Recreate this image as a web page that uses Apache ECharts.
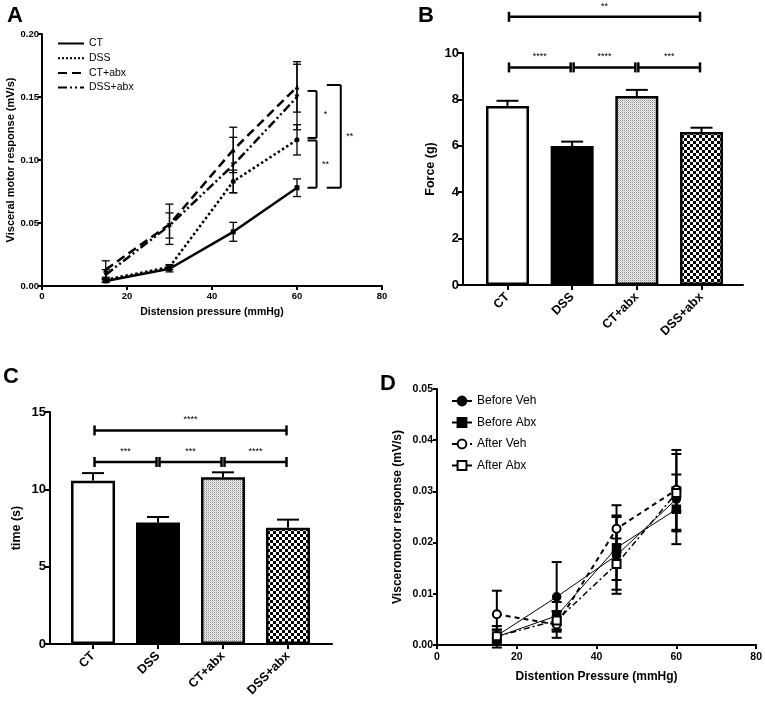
<!DOCTYPE html>
<html>
<head>
<meta charset="utf-8">
<script src="https://cdn.jsdelivr.net/npm/echarts@6/dist/echarts.min.js"></script>
<style>
html,body{margin:0;padding:0;background:#fff;}
#chart{width:765px;height:706px;}
</style>
</head>
<body>
<div id="chart"></div>
<script>
// ---------- DATA ----------
// Panel A
var pressureA = [15, 30, 45, 60];
var seriesNamesA = ['CT', 'DSS', 'CT+abx', 'DSS+abx'];
var meanA_CT = [0.004, 0.0137, 0.043, 0.078];
var semA_CT = [0.001, 0.0025, 0.0075, 0.007];
var meanA_DSS = [0.005, 0.015, 0.083, 0.116];
var semA_DSS = [0.002, 0.002, 0.009, 0.012];
var meanA_CTabx = [0.013, 0.049, 0.108, 0.158];
var semA_CTabx = [0.007, 0.016, 0.018, 0.020];
var meanA_DSSabx = [0.009, 0.048, 0.096, 0.150];
var semA_DSSabx = [0.004, 0.010, 0.022, 0.026];
var bracketA_x = [64.6, 64.6, 70.3];
var bracketA_top = [0.1548, 0.1155, 0.1595];
var bracketA_bottom = [0.1175, 0.078, 0.078];
var bracketA_label = ['*', '**', '**'];

// Panel B
var groups = ['CT', 'DSS', 'CT+abx', 'DSS+abx'];
var forceB = [7.72, 5.99, 8.15, 6.59];
var forceB_sem = [0.22, 0.19, 0.26, 0.19];
var sigB_from = [0, 1, 2, 0];
var sigB_to = [1, 2, 3, 3];
var sigB_level = [9.38, 9.38, 9.38, 11.56];
var sigB_label = ['****', '****', '***', '**'];

// Panel C
var timeC = [10.56, 7.85, 10.78, 7.52];
var timeC_sem = [0.49, 0.36, 0.32, 0.52];
var sigC_from = [0, 1, 2, 0];
var sigC_to = [1, 2, 3, 3];
var sigC_level = [11.77, 11.77, 11.77, 13.81];
var sigC_label = ['***', '***', '****', '****'];

// Panel D
var pressureD = [15, 30, 45, 60];
var seriesNamesD = ['Before Veh', 'Before Abx', 'After Veh', 'After Abx'];
var meanD_BeforeVeh = [0.0018, 0.0094, 0.0175, 0.0285];
var semD_BeforeVeh = [0.0012, 0.0068, 0.0075, 0.0088];
var meanD_BeforeAbx = [0.0016, 0.0057, 0.0190, 0.0265];
var semD_BeforeAbx = [0.0021, 0.0027, 0.0063, 0.0043];
var meanD_AfterVeh = [0.0060, 0.0040, 0.0227, 0.0303];
var semD_AfterVeh = [0.0046, 0.0026, 0.0046, 0.0078];
var meanD_AfterAbx = [0.0017, 0.0048, 0.0158, 0.0297];
var semD_AfterAbx = [0.0013, 0.0018, 0.0050, 0.0036];

// ---------- HELPERS ----------
var FONT = 'Liberation Sans';
function pts(xs, ys) { return xs.map(function (x, i) { return [x, ys[i]]; }); }
function errPts(xs, ys, es) { return xs.map(function (x, i) { return [x, ys[i] - es[i], ys[i] + es[i]]; }); }
function upErr(ys, es) { return ys.map(function (y, i) { return [i, y, y + es[i]]; }); }

function errRender(capHalf, lw, upOnly) {
  return function (params, api) {
    var x = api.value(0), lo = api.value(1), hi = api.value(2);
    var pl = api.coord([x, lo]), ph = api.coord([x, hi]);
    var st = { stroke: '#000', lineWidth: lw };
    var ch = [
      { type: 'line', shape: { x1: ph[0], y1: pl[1], x2: ph[0], y2: ph[1] }, style: st },
      { type: 'line', shape: { x1: ph[0] - capHalf, y1: ph[1], x2: ph[0] + capHalf, y2: ph[1] }, style: st }
    ];
    if (!upOnly) ch.push({ type: 'line', shape: { x1: pl[0] - capHalf, y1: pl[1], x2: pl[0] + capHalf, y2: pl[1] }, style: st });
    return { type: 'group', children: ch };
  };
}

function sigRender(labels) {
  return function (params, api) {
    var a = api.coord([api.value(0), api.value(2)]);
    var b = api.coord([api.value(1), api.value(2)]);
    var x1 = a[0] + 1.5, x2 = b[0] - 1.5, y = a[1];
    var st = { stroke: '#000', lineWidth: 2.5 };
    return {
      type: 'group', children: [
        { type: 'line', shape: { x1: x1, y1: y, x2: x2, y2: y }, style: st },
        { type: 'line', shape: { x1: x1, y1: y - 5, x2: x1, y2: y + 5 }, style: st },
        { type: 'line', shape: { x1: x2, y1: y - 5, x2: x2, y2: y + 5 }, style: st },
        { type: 'text', style: { text: labels[params.dataIndex], x: (x1 + x2) / 2, y: y - 6, align: 'center', verticalAlign: 'bottom', fontSize: 9, fontFamily: FONT, fill: '#000' } }
      ]
    };
  };
}

function bracketRender(labels, arms) {
  return function (params, api) {
    var t = api.coord([api.value(0), api.value(1)]);
    var b = api.coord([api.value(0), api.value(2)]);
    var arm = arms[params.dataIndex];
    var st = { stroke: '#000', lineWidth: 2 };
    return {
      type: 'group', children: [
        { type: 'line', shape: { x1: t[0], y1: t[1], x2: b[0], y2: b[1] }, style: st },
        { type: 'line', shape: { x1: t[0] - arm, y1: t[1], x2: t[0], y2: t[1] }, style: st },
        { type: 'line', shape: { x1: b[0] - arm, y1: b[1], x2: b[0], y2: b[1] }, style: st },
        { type: 'text', style: { text: labels[params.dataIndex], x: t[0] + 9, y: (t[1] + b[1]) / 2, align: 'center', verticalAlign: 'middle', fontSize: 9, fontFamily: FONT, fill: '#000' } }
      ]
    };
  };
}

// Patterns
function checkerCanvas() {
  var c = document.createElement('canvas'); c.width = 6; c.height = 6;
  var g = c.getContext('2d');
  g.fillStyle = '#fff'; g.fillRect(0, 0, 6, 6);
  g.fillStyle = '#000'; g.fillRect(0, 0, 3, 3); g.fillRect(3, 3, 3, 3);
  return c;
}
function speckleCanvas() {
  var c = document.createElement('canvas'); c.width = 2; c.height = 2;
  var g = c.getContext('2d');
  g.fillStyle = '#f2f2f2'; g.fillRect(0, 0, 2, 2);
  g.fillStyle = '#8a8a8a'; g.fillRect(0, 0, 1, 1);
  g.fillStyle = '#c8c8c8'; g.fillRect(1, 1, 1, 1);
  return c;
}
var barFills = ['#ffffff', '#000000', { image: speckleCanvas(), repeat: 'repeat' }, { image: checkerCanvas(), repeat: 'repeat' }];

function barData(vals) {
  return vals.map(function (v, i) {
    return { value: [i, v], itemStyle: { color: barFills[i], borderColor: '#000', borderWidth: 2.5 } };
  });
}

var axisLine = { show: true, onZero: false, lineStyle: { color: '#000', width: 2 } };
var tickLbl = function (size) { return { color: '#000', fontWeight: 'bold', fontSize: size, fontFamily: FONT }; };

function catXAxis(grid, min, max) {
  return {
    type: 'value', gridIndex: grid, min: min, max: max,
    axisLine: axisLine, splitLine: { show: false },
    axisTick: { show: true, customValues: [0, 1, 2, 3], length: 5, lineStyle: { color: '#000', width: 2 } },
    axisLabel: Object.assign({ customValues: [0, 1, 2, 3], rotate: 45, margin: 10, formatter: function (v) { return groups[Math.round(v)]; } }, tickLbl(12.5))
  };
}

var lineA = [
  { name: 'CT', m: meanA_CT, e: semA_CT, type: 'solid', sym: 'rect', rot: 0 },
  { name: 'DSS', m: meanA_DSS, e: semA_DSS, type: 'dotted', sym: 'circle', rot: 0 },
  { name: 'CT+abx', m: meanA_CTabx, e: semA_CTabx, type: [9, 5], sym: 'triangle', rot: 0 },
  { name: 'DSS+abx', m: meanA_DSSabx, e: semA_DSSabx, type: [9, 3, 2, 3, 2, 3], sym: 'triangle', rot: 180 }
];
var lineD = [
  { name: 'Before Veh', m: meanD_BeforeVeh, e: semD_BeforeVeh, type: 'solid', w: 1, sym: 'circle' },
  { name: 'Before Abx', m: meanD_BeforeAbx, e: semD_BeforeAbx, type: 'solid', w: 1, sym: 'rect' },
  { name: 'After Veh', m: meanD_AfterVeh, e: semD_AfterVeh, type: [5, 4], w: 2, sym: 'emptyCircle' },
  { name: 'After Abx', m: meanD_AfterAbx, e: semD_AfterAbx, type: [6, 3, 2, 3], w: 1.5, sym: 'emptyRect' }
];

var series = [];
lineA.forEach(function (s) {
  series.push({ type: 'custom', xAxisIndex: 0, yAxisIndex: 0, renderItem: errRender(4, 1.3, false), data: errPts(pressureA, s.m, s.e), encode: { x: 0, y: [1, 2] }, clip: false, z: 3, silent: true });
  series.push({ type: 'line', name: s.name, xAxisIndex: 0, yAxisIndex: 0, data: pts(pressureA, s.m), symbol: s.sym, symbolRotate: s.rot, symbolSize: 5, itemStyle: { color: '#000' }, lineStyle: { color: '#000', width: 2.5, type: s.type }, z: 4, animation: false });
});
series.push({ type: 'custom', xAxisIndex: 0, yAxisIndex: 0, renderItem: bracketRender(bracketA_label, [9, 9, 14]), data: bracketA_x.map(function (x, i) { return [x, bracketA_top[i], bracketA_bottom[i]]; }), encode: { x: 0, y: [1, 2] }, clip: false, silent: true });

// B
series.push({ type: 'bar', xAxisIndex: 1, yAxisIndex: 1, barWidth: 43, data: barData(forceB), z: 2, animation: false });
series.push({ type: 'custom', xAxisIndex: 1, yAxisIndex: 1, renderItem: errRender(11, 2, true), data: upErr(forceB, forceB_sem), encode: { x: 0, y: [1, 2] }, clip: false, z: 1, silent: true });
series.push({ type: 'custom', xAxisIndex: 1, yAxisIndex: 1, renderItem: sigRender(sigB_label), data: sigB_from.map(function (f, i) { return [f, sigB_to[i], sigB_level[i]]; }), encode: { x: [0, 1], y: 2 }, clip: false, silent: true });

// C
series.push({ type: 'bar', xAxisIndex: 2, yAxisIndex: 2, barWidth: 44, data: barData(timeC), z: 2, animation: false });
series.push({ type: 'custom', xAxisIndex: 2, yAxisIndex: 2, renderItem: errRender(11, 2, true), data: upErr(timeC, timeC_sem), encode: { x: 0, y: [1, 2] }, clip: false, z: 1, silent: true });
series.push({ type: 'custom', xAxisIndex: 2, yAxisIndex: 2, renderItem: sigRender(sigC_label), data: sigC_from.map(function (f, i) { return [f, sigC_to[i], sigC_level[i]]; }), encode: { x: [0, 1], y: 2 }, clip: false, silent: true });

// D
lineD.forEach(function (s) {
  series.push({ type: 'custom', xAxisIndex: 3, yAxisIndex: 3, renderItem: errRender(5, 2, false), data: errPts(pressureD, s.m, s.e), encode: { x: 0, y: [1, 2] }, clip: false, z: 3, silent: true });
  series.push({ type: 'line', name: s.name, xAxisIndex: 3, yAxisIndex: 3, data: pts(pressureD, s.m), symbol: s.sym, symbolSize: 8, itemStyle: { color: '#000', borderColor: '#000', borderWidth: 1.5 }, lineStyle: { color: '#000', width: s.w, type: s.type }, z: 4, animation: false });
});

var titleStyle = { fontSize: 22, fontWeight: 'bold', fontFamily: FONT, color: '#000' };

var option = {
  backgroundColor: '#fff',
  animation: false,
  title: [
    { text: 'A', left: 2, top: 0, textStyle: titleStyle },
    { text: 'B', left: 413, top: 0, textStyle: titleStyle },
    { text: 'C', left: -2, top: 361, textStyle: titleStyle },
    { text: 'D', left: 375, top: 368, textStyle: titleStyle }
  ],
  legend: [
    {
      data: seriesNamesA, orient: 'vertical', left: 52, top: 33, itemWidth: 26, itemHeight: 10, itemGap: 3.7,
      itemStyle: { opacity: 0 }, textStyle: { fontSize: 10.5, fontFamily: FONT, color: '#000' }, selectedMode: false
    },
    {
      data: seriesNamesD, orient: 'vertical', left: 446, top: 390, itemWidth: 20, itemHeight: 11, itemGap: 9.5,
      lineStyle: { width: 2 }, textStyle: { fontSize: 12, fontFamily: FONT, color: '#000' }, selectedMode: false
    }
  ],
  grid: [
    { left: 42, top: 34, width: 340, height: 252 },
    { left: 463, top: 53, width: 280, height: 232 },
    { left: 50, top: 412, width: 282, height: 232 },
    { left: 437, top: 389, width: 321, height: 256 }
  ],
  xAxis: [
    {
      type: 'value', gridIndex: 0, min: 0, max: 80, interval: 20, axisLine: axisLine, splitLine: { show: false },
      axisTick: { length: 4, lineStyle: { color: '#000', width: 2 } }, axisLabel: Object.assign({ margin: 5 }, tickLbl(9.5)),
      name: 'Distension pressure (mmHg)', nameLocation: 'middle', nameGap: 21, nameTextStyle: { fontSize: 10.5, fontWeight: 'bold', fontFamily: FONT, color: '#000' }
    },
    catXAxis(1, -0.688, 3.642),
    catXAxis(2, -0.662, 3.677),
    {
      type: 'value', gridIndex: 3, min: 0, max: 80, interval: 20, axisLine: axisLine, splitLine: { show: false },
      axisTick: { length: 4, lineStyle: { color: '#000', width: 2 } }, axisLabel: Object.assign({ margin: 7 }, tickLbl(10.5)),
      name: 'Distention Pressure (mmHg)', nameLocation: 'middle', nameGap: 26, nameTextStyle: { fontSize: 12, fontWeight: 'bold', fontFamily: FONT, color: '#000' }
    }
  ],
  yAxis: [
    {
      type: 'value', gridIndex: 0, min: 0, max: 0.2, interval: 0.05, axisLine: axisLine, splitLine: { show: false },
      axisTick: { show: true, length: 4, lineStyle: { color: '#000', width: 2 } },
      axisLabel: Object.assign({ margin: 3, formatter: function (v) { return v.toFixed(2); } }, tickLbl(9.5)),
      name: 'Visceral motor response (mV/s)', nameLocation: 'middle', nameGap: 24, nameTextStyle: { fontSize: 11, fontWeight: 'bold', fontFamily: FONT, color: '#000' }
    },
    {
      type: 'value', gridIndex: 1, min: 0, max: 10, interval: 2, axisLine: axisLine, splitLine: { show: false },
      axisTick: { show: true, length: 5, lineStyle: { color: '#000', width: 2 } }, axisLabel: Object.assign({ margin: 4 }, tickLbl(13)),
      name: 'Force (g)', nameLocation: 'middle', nameGap: 26, nameTextStyle: { fontSize: 12.5, fontWeight: 'bold', fontFamily: FONT, color: '#000' }
    },
    {
      type: 'value', gridIndex: 2, min: 0, max: 15, interval: 5, axisLine: axisLine, splitLine: { show: false },
      axisTick: { show: true, length: 5, lineStyle: { color: '#000', width: 2 } }, axisLabel: Object.assign({ margin: 4 }, tickLbl(13)),
      name: 'time (s)', nameLocation: 'middle', nameGap: 27, nameTextStyle: { fontSize: 12.5, fontWeight: 'bold', fontFamily: FONT, color: '#000' }
    },
    {
      type: 'value', gridIndex: 3, min: 0, max: 0.05, interval: 0.01, axisLine: axisLine, splitLine: { show: false },
      axisTick: { show: true, length: 4, lineStyle: { color: '#000', width: 2 } },
      axisLabel: Object.assign({ margin: 4, formatter: function (v) { return v.toFixed(2); } }, tickLbl(10.5)),
      name: 'Visceromotor response (mV/s)', nameLocation: 'middle', nameGap: 33, nameTextStyle: { fontSize: 12, fontWeight: 'bold', fontFamily: FONT, color: '#000' }
    }
  ],
  series: series
};

var chart = echarts.init(document.getElementById('chart'), null, { renderer: 'canvas' });
chart.setOption(option);
</script>
</body>
</html>
